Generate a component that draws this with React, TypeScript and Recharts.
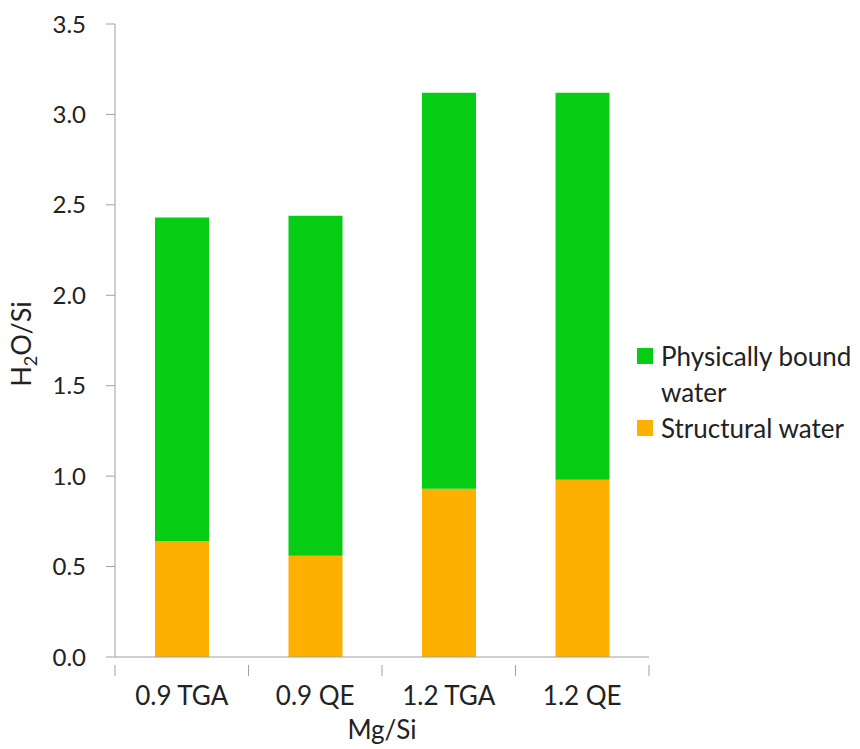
import React from 'react';
import { BarChart, Bar, XAxis, YAxis } from 'recharts';

const samples = ['0.9 TGA', '0.9 QE', '1.2 TGA', '1.2 QE'];
const structuralWater = [0.64, 0.56, 0.93, 0.98];
const physicallyBound = [1.79, 1.88, 2.19, 2.14];
const yTicks = [0, 0.5, 1.0, 1.5, 2.0, 2.5, 3.0, 3.5];

const GREEN = '#06cc14';
const ORANGE = '#fdb000';
const AXIS = '#a0a0a0';
const FONT = 'Lato, "Open Sans", sans-serif';

const data = samples.map((s, i) => ({
    name: s,
    structural: structuralWater[i],
    physical: physicallyBound[i],
}));

const CategoryTick = (props: any) => {
    const { x, y, payload, index } = props;
    const half = payload && payload.offset ? payload.offset : 66.75;
    return (
        <g>
            <line x1={x - half} y1={y} x2={x - half} y2={y + 11} stroke={AXIS} />
            {index === samples.length - 1 && (
                <line x1={x + half} y1={y} x2={x + half} y2={y + 11} stroke={AXIS} />
            )}
            <text x={x} y={y + 40} textAnchor="middle" fontSize={26} fill="#222" fontFamily={FONT}>
                {payload.value}
            </text>
        </g>
    );
};

const YTitle = () => (
    <text
        transform="translate(31, 344) rotate(-90)"
        textAnchor="middle"
        fontSize={27}
        fill="#222"
        fontFamily={FONT}
    >
        H<tspan fontSize={18} dy={6}>2</tspan>
        <tspan dy={-6}>O/Si</tspan>
    </text>
);

const legendItems = [
    { color: GREEN, lines: ['Physically bound', 'water'] },
    { color: ORANGE, lines: ['Structural water'] },
];

const LegendBox = () => (
    <div
        style={{
            position: 'absolute',
            left: 637,
            top: 338,
            fontFamily: FONT,
            fontSize: 26,
            color: '#222',
            lineHeight: '36px',
        }}
    >
        {legendItems.map((it) => (
            <div key={it.lines[0]} style={{ display: 'flex', alignItems: 'flex-start' }}>
                <span
                    style={{
                        width: 16,
                        height: 16,
                        background: it.color,
                        marginTop: 10,
                        marginRight: 8,
                        flexShrink: 0,
                    }}
                />
                <div>
                    {it.lines.map((l) => (
                        <div key={l}>{l}</div>
                    ))}
                </div>
            </div>
        ))}
    </div>
);

export default function App() {
    return (
        <div style={{ position: 'absolute', left: 0, top: 0, width: 860, height: 749, background: '#fff' }}>
            <BarChart
                width={860}
                height={749}
                data={data}
                margin={{ top: 24, right: 211, bottom: 0, left: 0 }}
                barSize={54}
            >
                <XAxis
                    dataKey="name"
                    height={92}
                    stroke={AXIS}
                    tickLine={false}
                    tick={<CategoryTick />}
                    interval={0}
                    label={{
                        value: 'Mg/Si',
                        position: 'insideBottom',
                        offset: 10,
                        fontSize: 26,
                        fill: '#222',
                        fontFamily: FONT,
                    }}
                />
                <YAxis
                    width={115}
                    domain={[0, 3.5]}
                    ticks={yTicks}
                    stroke={AXIS}
                    tickSize={9}
                    tickMargin={20}
                    tickFormatter={(v: number) => v.toFixed(1)}
                    tick={{ fontSize: 24, fill: '#222', fontFamily: FONT }}
                    interval={0}
                    label={<YTitle />}
                />
                <Bar dataKey="structural" stackId="w" fill={ORANGE} isAnimationActive={false} />
                <Bar dataKey="physical" stackId="w" fill={GREEN} isAnimationActive={false} />
            </BarChart>
            <LegendBox />
        </div>
    );
}
